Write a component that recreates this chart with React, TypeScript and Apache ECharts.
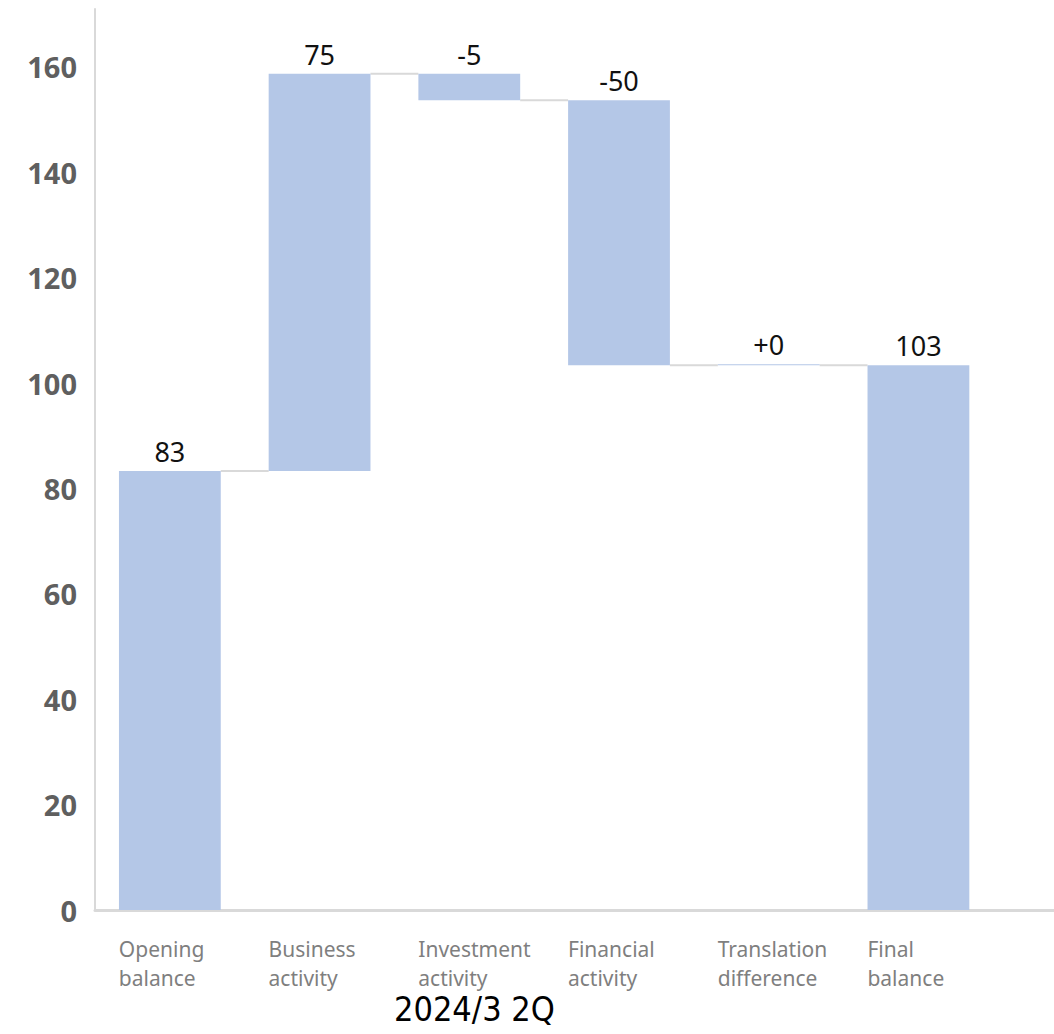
import React, { useEffect, useRef } from "react";
import * as echarts from "echarts";

const categories = [
  "Opening\nbalance",
  "Business\nactivity",
  "Investment\nactivity",
  "Financial\nactivity",
  "Translation\ndifference",
  "Final\nbalance",
  "",
];
const openingBalance = 83.3;
const changes = [75.4, -5.0, -50.3, 0];
const finalBalance = 103.4;
const valueLabels = ["83", "75", "-5", "-50", "+0", "103"];
const yTicks = [0, 20, 40, 60, 80, 100, 120, 140, 160];
const periodTitle = "2024/3 2Q";
const pageNumber = "7";

const BAR_COLOR = "#b4c7e7";
const LINE_COLOR = "#d9d9d9";
const BAR_RATIO = 0.68;

function buildWaterfall() {
  const base: number[] = [0];
  const height: number[] = [openingBalance];
  const levels: number[] = [openingBalance];
  let run = openingBalance;
  for (const c of changes) {
    const end = run + c;
    base.push(Math.min(run, end));
    height.push(Math.abs(c));
    levels.push(end);
    run = end;
  }
  base.push(0);
  height.push(finalBalance);
  return { base, height, levels };
}

export default function App() {
  const ref = useRef<HTMLDivElement>(null);
  useEffect(() => {
    if (!ref.current) return;
    const chart = echarts.init(ref.current, null, { renderer: "svg" });
    const { base, height, levels } = buildWaterfall();
    const connectorData = levels.map((lv, i) => [i, lv]);

    chart.setOption({
      animation: false,
      backgroundColor: "#ffffff",
      grid: {
        left: 95,
        top: 9,
        width: 1048,
        height: 901,
        containLabel: false,
        outerBoundsMode: "none",
      },
      xAxis: {
        type: "category",
        data: categories,
        axisLine: { show: true, lineStyle: { color: LINE_COLOR, width: 3 } },
        axisTick: { show: false },
        axisLabel: {
          interval: 0,
          margin: 24,
          formatter: (v: string) =>
            v
              ? v
                  .split("\n")
                  .map((s) => `{a|${s}}`)
                  .join("\n")
              : "",
          rich: {
            a: {
              width: 102,
              align: "left",
              fontSize: 21,
              lineHeight: 29,
              color: "#7f7f7f",
              fontFamily: "Noto Sans",
            },
          },
        },
        splitLine: { show: false },
      },
      yAxis: {
        type: "value",
        min: 0,
        max: 171,
        interval: 20,
        axisLine: { show: true, lineStyle: { color: LINE_COLOR, width: 2 } },
        axisTick: { show: false },
        splitLine: { show: false },
        axisLabel: {
          margin: 18,
          fontSize: 29,
          fontWeight: "bold",
          color: "#5f5f5f",
          fontFamily: "Noto Sans",
          formatter: (v: number) => (yTicks.includes(v) ? String(v) : ""),
        },
      },
      series: [
        {
          type: "custom",
          z: 1,
          data: connectorData,
          renderItem: (params: any, api: any) => {
            const i = api.value(0);
            const lv = api.value(1);
            const a = api.coord([i, lv]);
            const b = api.coord([i + 1, lv]);
            const bw = api.size([1, 0])[0] * BAR_RATIO;
            return {
              type: "line",
              shape: { x1: a[0] + bw / 2, y1: a[1], x2: b[0] - bw / 2, y2: b[1] },
              style: { stroke: LINE_COLOR, lineWidth: 2 },
            };
          },
        },
        {
          type: "bar",
          stack: "wf",
          barWidth: "68%",
          data: base,
          itemStyle: { color: "transparent" },
          emphasis: { disabled: true },
          silent: true,
          z: 2,
        },
        {
          type: "bar",
          stack: "wf",
          barWidth: "68%",
          barMinHeight: 1,
          data: height,
          itemStyle: { color: BAR_COLOR },
          z: 3,
          label: {
            show: true,
            position: "top",
            distance: 6,
            fontSize: 27,
            color: "#111111",
            fontFamily: "Noto Sans",
            formatter: (p: any) => valueLabels[p.dataIndex] ?? "",
          },
        },
      ],
      graphic: [
        {
          type: "text",
          left: 394,
          top: 992,
          style: {
            text: periodTitle,
            fontSize: 34,
            fill: "#000000",
            fontFamily: "Liberation Sans Narrow, DejaVu Sans Condensed, Noto Sans",
          },
        },
        {
          type: "text",
          left: 936,
          top: 1029,
          style: {
            text: pageNumber,
            fontSize: 40,
            fill: "#000000",
            fontFamily: "Liberation Sans Narrow, Noto Sans",
          },
        },
      ],
    });
    return () => chart.dispose();
  }, []);
  return (
    <div
      ref={ref}
      style={{ position: "absolute", left: 0, top: 0, width: 1054, height: 1034, overflow: "hidden" }}
    />
  );
}
